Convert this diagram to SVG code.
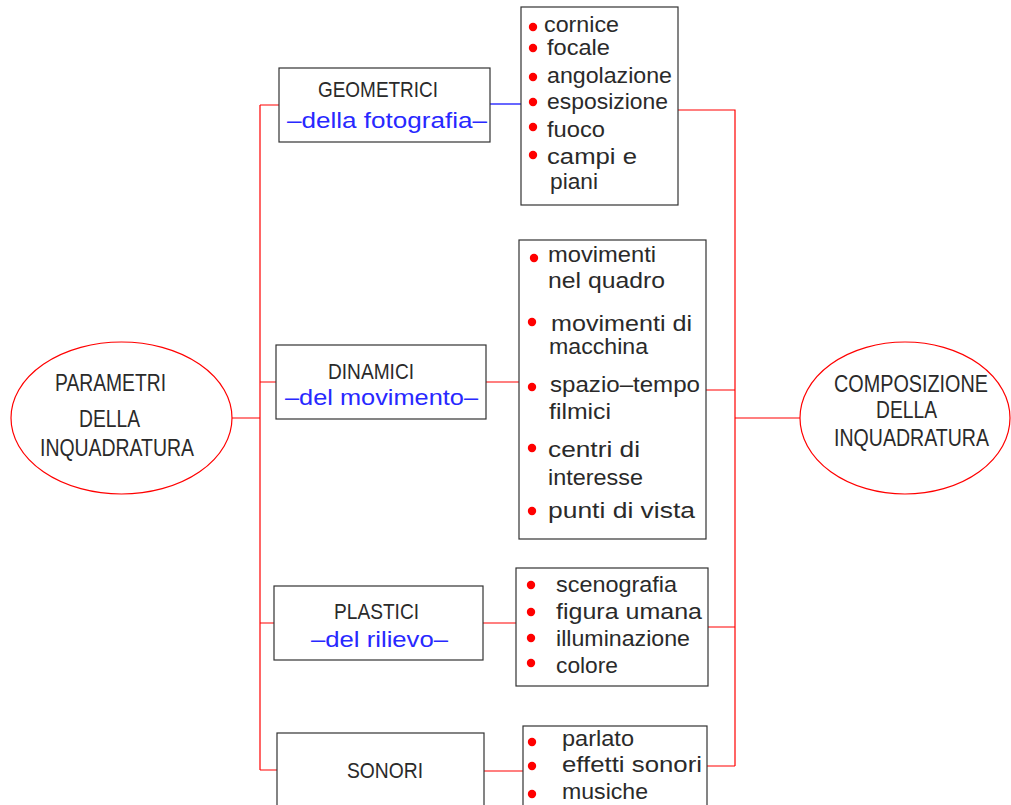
<svg xmlns="http://www.w3.org/2000/svg" width="1011" height="805" viewBox="0 0 1011 805">
<style>
.bg{fill:#fff}
.box{fill:#fff;stroke:#333;stroke-width:1.2}
.ell{fill:#fff;stroke:#f00;stroke-width:1.2}
.cr{stroke:#f00;stroke-width:1.2;fill:none}
.cb{stroke:#00f;stroke-width:1.2;fill:none}
.e{font-family:"Liberation Sans",Arial,sans-serif;font-size:24px;fill:#2a2a2a}
.t{font-family:"Liberation Sans",Arial,sans-serif;font-size:22px;fill:#2a2a2a}
.l{font-family:"Liberation Sans",Arial,sans-serif;font-size:21.5px;fill:#2a2a2a}
.b{font-family:"Liberation Sans",Arial,sans-serif;font-size:21.5px;fill:#2828ff}
.dot{fill:#f00}
</style>
<rect class="bg" x="0" y="0" width="1011" height="805"/>
<g id="connectors">
<path class="cr" d="M232,418H260M260,105V770M260,105H279M260,382H276M260,623H274M260,770H277"/>
<path class="cb" d="M490,104H521"/>
<path class="cr" d="M486,382H519M483,623H516M484,771H523"/>
<path class="cr" d="M678,110H735V766M706,390H735M708,627H735M707,766H735M735,418H800"/>
</g>
<g id="parametri">
<ellipse class="ell" cx="121.5" cy="418" rx="110.5" ry="76"/>
<text class="e" x="55" y="391" textLength="111" lengthAdjust="spacingAndGlyphs">PARAMETRI</text>
<text class="e" x="79" y="427" textLength="61" lengthAdjust="spacingAndGlyphs">DELLA</text>
<text class="e" x="40" y="456" textLength="154" lengthAdjust="spacingAndGlyphs">INQUADRATURA</text>
</g>
<g id="composizione">
<ellipse class="ell" cx="905" cy="418" rx="105" ry="76"/>
<text class="e" x="834" y="392" textLength="154" lengthAdjust="spacingAndGlyphs">COMPOSIZIONE</text>
<text class="e" x="876" y="418" textLength="61" lengthAdjust="spacingAndGlyphs">DELLA</text>
<text class="e" x="834" y="446" textLength="155" lengthAdjust="spacingAndGlyphs">INQUADRATURA</text>
</g>
<g id="geometrici">
<rect class="box" x="279" y="68" width="211" height="74"/>
<text class="t" x="318" y="97" textLength="120" lengthAdjust="spacingAndGlyphs">GEOMETRICI</text>
<text class="b" x="287" y="128" textLength="200" lengthAdjust="spacingAndGlyphs">–della  fotografia–</text>
</g>
<g id="dinamici">
<rect class="box" x="276" y="345" width="210" height="74"/>
<text class="t" x="328" y="379" textLength="86" lengthAdjust="spacingAndGlyphs">DINAMICI</text>
<text class="b" x="285" y="405" textLength="193" lengthAdjust="spacingAndGlyphs">–del  movimento–</text>
</g>
<g id="plastici">
<rect class="box" x="274" y="586" width="209" height="74"/>
<text class="t" x="334" y="619" textLength="85" lengthAdjust="spacingAndGlyphs">PLASTICI</text>
<text class="b" x="311" y="647" textLength="137" lengthAdjust="spacingAndGlyphs">–del  rilievo–</text>
</g>
<g id="sonori">
<rect class="box" x="277" y="733" width="207" height="100"/>
<text class="t" x="347" y="778" textLength="76" lengthAdjust="spacingAndGlyphs">SONORI</text>
</g>
<g id="lista-geometrici">
<rect class="box" x="521" y="7" width="157" height="198"/>
<circle class="dot" cx="533" cy="27" r="4.2"/>
<circle class="dot" cx="533" cy="48" r="4.2"/>
<circle class="dot" cx="533" cy="77" r="4.2"/>
<circle class="dot" cx="533" cy="102" r="4.2"/>
<circle class="dot" cx="533" cy="127" r="4.2"/>
<circle class="dot" cx="533" cy="155" r="4.2"/>
<text class="l" x="544" y="32" textLength="75" lengthAdjust="spacingAndGlyphs">cornice</text>
<text class="l" x="547" y="55" textLength="63" lengthAdjust="spacingAndGlyphs">focale</text>
<text class="l" x="547" y="83" textLength="125" lengthAdjust="spacingAndGlyphs">angolazione</text>
<text class="l" x="547" y="109" textLength="121" lengthAdjust="spacingAndGlyphs">esposizione</text>
<text class="l" x="547" y="137" textLength="58" lengthAdjust="spacingAndGlyphs">fuoco</text>
<text class="l" x="547" y="164" textLength="90" lengthAdjust="spacingAndGlyphs">campi  e</text>
<text class="l" x="550" y="189" textLength="48" lengthAdjust="spacingAndGlyphs">piani</text>
</g>
<g id="lista-dinamici">
<rect class="box" x="519" y="240" width="187" height="299"/>
<circle class="dot" cx="534" cy="258" r="4.2"/>
<circle class="dot" cx="532" cy="322" r="4.2"/>
<circle class="dot" cx="532" cy="387" r="4.2"/>
<circle class="dot" cx="532" cy="448" r="4.2"/>
<circle class="dot" cx="532" cy="511" r="4.2"/>
<text class="l" x="548" y="262" textLength="108" lengthAdjust="spacingAndGlyphs">movimenti</text>
<text class="l" x="548" y="288" textLength="117" lengthAdjust="spacingAndGlyphs">nel  quadro</text>
<text class="l" x="551" y="331" textLength="141" lengthAdjust="spacingAndGlyphs">movimenti  di</text>
<text class="l" x="549" y="354" textLength="99" lengthAdjust="spacingAndGlyphs">macchina</text>
<text class="l" x="550" y="392" textLength="150" lengthAdjust="spacingAndGlyphs">spazio–tempo</text>
<text class="l" x="549" y="419" textLength="62" lengthAdjust="spacingAndGlyphs">filmici</text>
<text class="l" x="548" y="457" textLength="92" lengthAdjust="spacingAndGlyphs">centri  di</text>
<text class="l" x="548" y="485" textLength="95" lengthAdjust="spacingAndGlyphs">interesse</text>
<text class="l" x="548" y="518" textLength="147" lengthAdjust="spacingAndGlyphs">punti  di  vista</text>
</g>
<g id="lista-plastici">
<rect class="box" x="516" y="568" width="192" height="118"/>
<circle class="dot" cx="531" cy="585" r="4.2"/>
<circle class="dot" cx="531" cy="612" r="4.2"/>
<circle class="dot" cx="531" cy="638" r="4.2"/>
<circle class="dot" cx="531" cy="663" r="4.2"/>
<text class="l" x="556" y="592" textLength="121" lengthAdjust="spacingAndGlyphs">scenografia</text>
<text class="l" x="556" y="619" textLength="146" lengthAdjust="spacingAndGlyphs">figura  umana</text>
<text class="l" x="556" y="646" textLength="134" lengthAdjust="spacingAndGlyphs">illuminazione</text>
<text class="l" x="556" y="673" textLength="62" lengthAdjust="spacingAndGlyphs">colore</text>
</g>
<g id="lista-sonori">
<rect class="box" x="523" y="726" width="184" height="100"/>
<circle class="dot" cx="532" cy="742" r="4.2"/>
<circle class="dot" cx="532" cy="766" r="4.2"/>
<circle class="dot" cx="532" cy="794" r="4.2"/>
<text class="l" x="562" y="746" textLength="72" lengthAdjust="spacingAndGlyphs">parlato</text>
<text class="l" x="562" y="772" textLength="140" lengthAdjust="spacingAndGlyphs">effetti  sonori</text>
<text class="l" x="562" y="799" textLength="86" lengthAdjust="spacingAndGlyphs">musiche</text>
</g>
</svg>
